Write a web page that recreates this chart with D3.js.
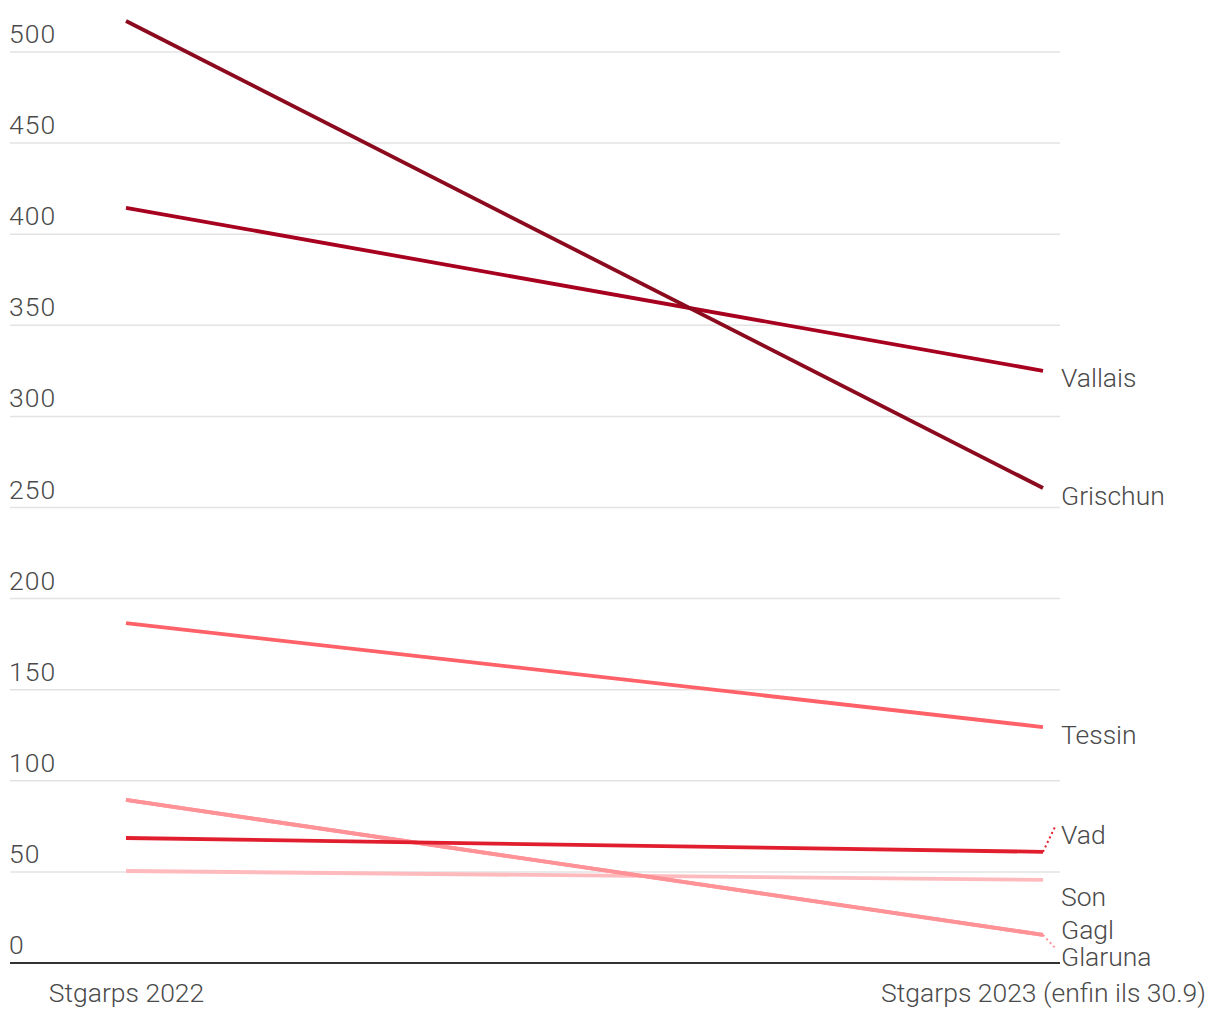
<!DOCTYPE html>
<html><head><meta charset="utf-8">
<script src="https://cdn.jsdelivr.net/npm/d3@7"></script>
<style>
body{margin:0;background:#fff;}
text{font-family:Roboto, "Noto Sans", sans-serif;font-weight:300;fill:#4a4a4a;}
</style></head>
<body><svg id="c" width="1220" height="1020"></svg>
<script>
const years = ["Stgarps 2022", "Stgarps 2023 (enfin ils 30.9)"];
const names = ["Grischun", "Vallais", "Tessin", "Gagl", "Vad", "Son", "Glaruna"];
const values2022 = [517, 414.5, 186.5, 89.5, 68.6, 50.5, 89.5];
const values2023 = [260.7, 325, 129.5, 15.5, 61, 45.6, 15.4];
const colors = ["#8c0a1e", "#a8001f", "#ff6168", "#ff9297", "#e01e2e", "#ffbabd", "#ff9297"];
const yTicks = [0, 50, 100, 150, 200, 250, 300, 350, 400, 450, 500];
// label nudges (px) to avoid collisions
const nudge = {Vad: -24, Son: 10, Gagl: -12, Glaruna: 15};

const FS = 26.5;
const svg = d3.select("#c");
const x = d3.scalePoint().domain(years).range([126, 1043]);
const y = d3.scaleLinear().domain([0, 500]).range([963, 52]);

// gridlines
const grid = svg.append("g");
grid.selectAll("line").data(yTicks.filter(d => d > 0)).join("line")
  .attr("x1", 10).attr("x2", 1060)
  .attr("y1", d => y(d)).attr("y2", d => y(d))
  .attr("stroke", "#e3e3e3").attr("stroke-width", 1.5);
grid.selectAll("text").data(yTicks).join("text")
  .attr("x", 9).attr("y", d => y(d) - 9)
  .attr("font-size", FS).attr("letter-spacing", 1).text(d => d);

// x axis
const xAxis = d3.axisBottom(x).tickSize(0).tickPadding(0);
const gx = svg.append("g").attr("transform", `translate(0,${y(0)})`).call(xAxis);
gx.select(".domain").remove();
gx.selectAll("text").attr("font-size", FS).attr("dy", "0").attr("y", 39)
  .style("font-family", "Roboto, 'Noto Sans', sans-serif").style("font-weight", 300).attr("fill", "#4a4a4a");
svg.append("line").attr("x1", 10).attr("x2", 1060).attr("y1", y(0)).attr("y2", y(0))
  .attr("stroke", "#333").attr("stroke-width", 2);

const series = names.map((n, i) => ({name: n, color: colors[i],
  pts: [[years[0], values2022[i]], [years[1], values2023[i]]]}));

const line = d3.line().x(d => x(d[0])).y(d => y(d[1]));
// draw order: Glaruna over Gagl
const order = ["Son", "Gagl", "Glaruna", "Vad", "Tessin", "Vallais", "Grischun"];
order.forEach(n => {
  const s = series.find(d => d.name === n);
  svg.append("path").attr("d", line(s.pts)).attr("fill", "none")
    .attr("stroke", s.color).attr("stroke-width", 3.8).attr("stroke-linecap", "butt");
});

// labels
series.forEach(s => {
  const ey = y(s.pts[1][1]);
  const ex = x(years[1]);
  const dn = nudge[s.name] || 0;
  const cy = ey + 7 + dn;
  if (Math.abs(dn) > 13) {
    svg.append("line").attr("x1", ex).attr("y1", ey)
      .attr("x2", ex + 13).attr("y2", dn < 0 ? cy - 10 : cy - 8)
      .attr("stroke", s.color).attr("stroke-width", 2).attr("stroke-dasharray", "2,3");
  }
  svg.append("text").attr("x", 1061).attr("y", cy + 9.5)
    .attr("font-size", FS).text(s.name);
});
</script></body></html>
